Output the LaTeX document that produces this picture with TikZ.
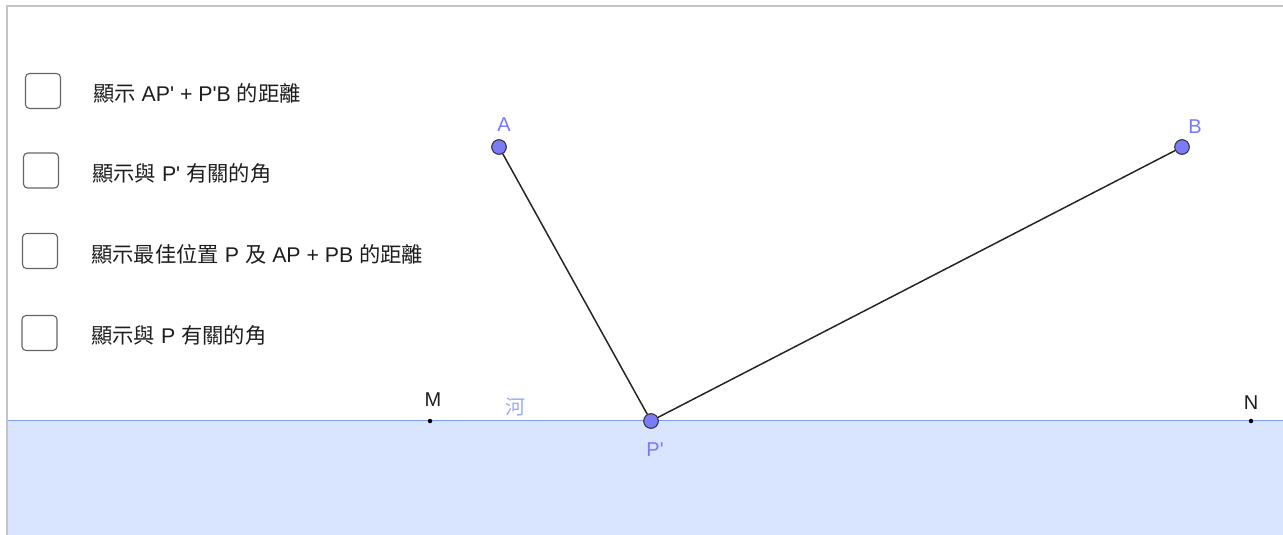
\documentclass[tikz,border=0pt]{standalone}
\usepackage{fontspec}
\setmainfont{Liberation Sans}[Ligatures=TeXOff]
\newfontfamily\cjk{Noto Sans CJK TC}
\definecolor{framegray}{RGB}{196,196,196}
\definecolor{riverfill}{RGB}{217,228,255}
\definecolor{riverline}{RGB}{125,155,240}
\definecolor{ptblue}{RGB}{122,122,250}
\definecolor{lblblue}{RGB}{120,120,255}
\definecolor{heblue}{RGB}{150,170,255}
\definecolor{txt}{RGB}{30,30,30}
\definecolor{boxgray}{RGB}{100,100,100}
\tikzset{
  cbox/.style={draw=boxgray, line width=1.1pt, rounded corners=4pt, minimum width=35pt, minimum height=35pt, inner sep=0pt},
  cbtext/.style={anchor=base west, inner sep=0pt, text=txt, font=\fontsize{21.3}{25}\selectfont},
  pt/.style={circle, draw=black!80, line width=0.9pt, fill=ptblue, minimum size=14.5pt, inner sep=0pt},
  dotpt/.style={circle, fill=black, minimum size=4.5pt, inner sep=0pt},
  seg/.style={draw=black!85, line width=1.5pt},
  ptlbl/.style={anchor=base, inner sep=0pt, text=lblblue, font=\fontsize{20}{22}\selectfont},
  blklbl/.style={anchor=base, inner sep=0pt, text=txt, font=\fontsize{20}{22}\selectfont},
}
\begin{document}
\begin{tikzpicture}[x=1pt,y=-1pt]
\useasboundingbox (0,0) rectangle (1283,535);
% river
\fill[riverfill] (8,421) rectangle (1283,535);
\draw[riverline, line width=1.5pt] (8,420.5) -- (1283,420.5);
% frame
\draw[framegray, line width=2pt] (7,535) -- (7,6) -- (1283,6);
% checkboxes
\node[cbox] (c1) at (43,91) {};
\node[cbox] (c2) at (41,170.5) {};
\node[cbox] (c3) at (40,251) {};
\node[cbox] (c4) at (39.5,333) {};
\node[cbtext] (t1) at (93,101.8) {{\cjk 顯示} AP' + P'B {\cjk 的距離}};
\node[cbtext] (t2) at (92,181.8) {{\cjk 顯示與} P' {\cjk 有關的角}};
\node[cbtext] (t3) at (91,262.8) {{\cjk 顯示最佳位置} P {\cjk 及} AP + PB {\cjk 的距離}};
\node[cbtext] (t4) at (91,343.8) {{\cjk 顯示與} P {\cjk 有關的角}};
% points
\node[dotpt] (M) at (430,421) {};
\node[dotpt] (N) at (1251,421) {};
\node[pt] (A) at (499,147) {};
\node[pt] (B) at (1182,147) {};
\node[pt] (P) at (651,421) {};
\draw[seg] (A) -- (P);
\draw[seg] (P) -- (B);
\node[pt] at (A) {};
\node[pt] at (B) {};
\node[pt] at (P) {};
% labels
\node[ptlbl] (lA) at (504,131.7) {A};
\node[ptlbl] (lB) at (1195,133.3) {B};
\node[ptlbl] (lP) at (655,456) {P'};
\node[blklbl] (lM) at (433,406) {M};
\node[blklbl] (lN) at (1251,409) {N};
\node[anchor=center, inner sep=0pt, text=heblue, font=\fontsize{20}{22}\selectfont\cjk] (he) at (515,407.5) {河};
\end{tikzpicture}
\end{document}
